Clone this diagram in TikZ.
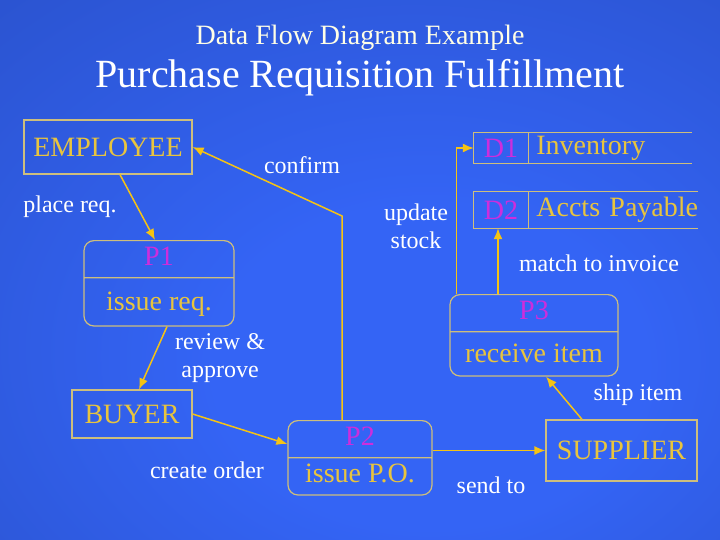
\documentclass[tikz,border=0pt]{standalone}
\usepackage{fontspec}
\setmainfont{Liberation Serif}
\newfontfamily\slideserif{Liberation Serif}
\usetikzlibrary{calc,shapes.multipart,arrows.meta}

\definecolor{bgin}{RGB}{52,100,245}
\definecolor{bgout}{RGB}{30,60,155}
\definecolor{boxline}{RGB}{205,190,125}
\definecolor{flowline}{RGB}{245,195,20}
\definecolor{goldtext}{RGB}{232,196,62}
\definecolor{idtext}{RGB}{205,45,220}
\pgfdeclareradialshading{slidebg}{\pgfpoint{6bp}{-11bp}}{color(0bp)=(bgin); color(15bp)=(bgin); color(80bp)=(bgout)}
\def\boxfont{\slideserif\fontsize{28}{30}\selectfont}
\def\labelfont{\slideserif\fontsize{24}{28}\selectfont}
\def\procid#1{\strut\textcolor{idtext}{#1}}
\def\partstrut#1#2{\rule[-#1pt]{0pt}{#2pt}}

\tikzset{
	entity/.style={draw=boxline, line width=1.2pt, text=goldtext, font=\boxfont, inner sep=0pt},
	process/.style={rectangle split, rectangle split parts=2, draw=boxline, line width=1.2pt, rounded corners=10pt, text=goldtext, font=\boxfont, inner ysep=3pt, anchor=north},
	storeid/.style={text=idtext, font=\boxfont, minimum width=54pt, inner sep=0pt},
	storename/.style={anchor=west, text=goldtext, font=\boxfont, align=left, inner xsep=8pt, inner ysep=0pt},
	storeline/.style={draw=boxline, line width=1.2pt},
	flow/.style={draw=flowline, line width=1.5pt, -{Latex[length=11pt,width=9pt]}},
	flowlabel/.style={text=white, font=\labelfont, align=center},
}

\begin{document}
\begin{tikzpicture}[x=1pt, y=-1pt]
		%%%%% START %%%%%
		\shade[shading=slidebg] (0, 0) rectangle (720, 540);
		\useasboundingbox (0, 0) rectangle (720, 540);
		
		\node[text=white!90!yellow, font=\slideserif\fontsize{28}{30}\selectfont] (title) at (360, 38) {Data Flow Diagram Example};
		\node[text=white, font=\slideserif\fontsize{40}{44}\selectfont] (subject) at (360, 78) {Purchase Requisition Fulfillment};
		
		\node[entity, minimum width=168pt, minimum height=54pt] (employee) at (108, 147) {EMPLOYEE};
		\node[entity, minimum width=120pt, minimum height=48pt] (buyer) at (132, 414) {BUYER};
		\node[entity, minimum width=151pt, minimum height=61pt] (supplier) at (621.5, 450.5) {SUPPLIER};
		
		\node[process, minimum width=150pt] (p1) at (159, 240) {\procid{P1}\nodepart{two}\partstrut{12}{41}issue req.};
		\node[process, minimum width=144pt] (p2) at (360, 420) {\procid{P2}\nodepart{two}\strut issue P.O.};
		\node[process, minimum width=168pt] (p3) at (534, 294) {\procid{P3}\nodepart{two}\partstrut{10}{37}receive item};
		
		\node[storeid, minimum height=30pt] (d1id) at (501, 148) {D1};
		\node[storename, minimum height=30pt, text width=147pt] (d1name) at (d1id.east) {\mbox{Inventory}};
		\draw[storeline] (d1name.north east) -- (d1id.north west) -- (d1id.south west) -- (d1name.south east);
		\draw[storeline] (d1id.north east) -- (d1id.south east);
		
		\node[storeid, minimum height=36pt] (d2id) at (501, 210) {D2};
		\node[storename, minimum height=36pt, text width=153pt] (d2name) at (d2id.east) {\mbox{Accts Payable}};
		\draw[storeline] (d2name.north east) -- (d2id.north west) -- (d2id.south west) -- (d2name.south east);
		\draw[storeline] (d2id.north east) -- (d2id.south east);
		
		\draw[flow] ([xshift=12pt]employee.south) -- ([xshift=-4pt]p1.north);
		\draw[flow] ([xshift=8pt]p1.south) -- ([xshift=7pt]buyer.north);
		\draw[flow] (buyer.east) -- ([yshift=-24pt]p2.north west);
		\draw[flow] (p2.east |- supplier.west) -- (supplier.west);
		\draw[flow] ([xshift=-39.5pt]supplier.north) -- ([xshift=12pt]p3.south);
		\draw[flow] ([xshift=-3pt]d2id.south |- p3.north) -- ([xshift=-3pt]d2id.south);
		\draw[flow] ([xshift=7pt]p3.north west) |- (d1id.west);
		\coordinate (corner) at (342, 216);
		\draw[flow] ([xshift=-18pt]p2.north) -- (corner) -- (employee.east);
		
		\node[flowlabel] (confirmlbl) at (302, 165) {confirm};
		\node[flowlabel] (placelbl) at (70, 207) {place req.};
		\node[flowlabel] (updatelbl) at (416, 226) {update\\stock};
		\node[flowlabel] (matchlbl) at (599, 263) {match to invoice};
		\node[flowlabel] (reviewlbl) at (220, 358) {review \&\\approve};
		\node[flowlabel] (shiplbl) at (638, 395) {ship item};
		\node[flowlabel] (createlbl) at (207, 470) {create order};
		\node[flowlabel] (sendlbl) at (491, 485) {send to};
		%%%%% END %%%%%
	\end{tikzpicture}
\end{document}
